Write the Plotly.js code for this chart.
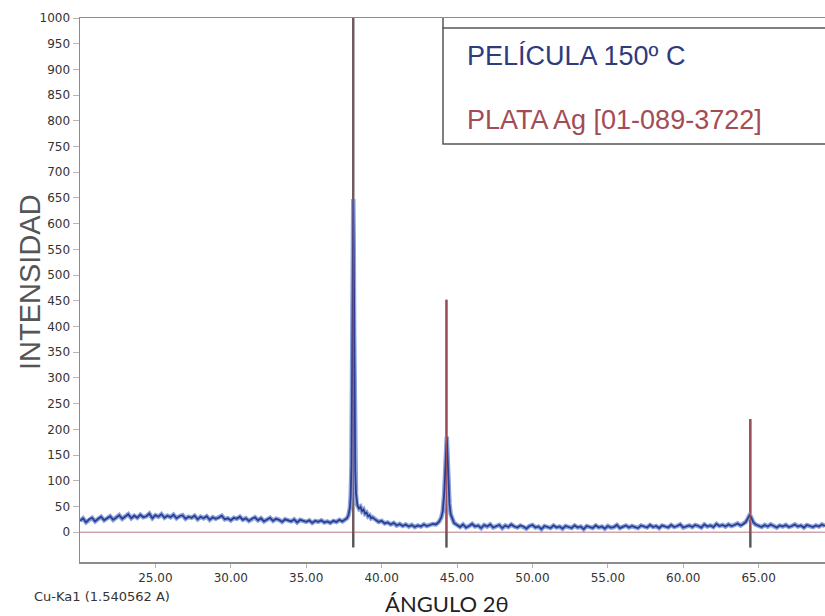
<!DOCTYPE html>
<html>
<head>
<meta charset="utf-8">
<script src="https://cdn.plot.ly/plotly-3.0.1.min.js"></script>
<style>html,body{margin:0;padding:0;background:#fff;}#chart{width:825px;height:616px;}</style>
</head>
<body>
<div id="chart"></div>
<script>
// ---- Sample (PELÍCULA 150º C) background segments: start, step, values ----
const segAStart = 20.0, segAStep = 0.2;
const segAValues = [22,27,19,25,28,21,26,30,23,27,
  31,24,29,33,26,30,35,27,32,28,
  34,29,31,36,27,33,30,35,28,32,
  29,34,27,31,33,26,30,28,32,25,
  30,27,31,24,29,26,28,32,25,27,
  23,28,26,30,24,27,22,26,29,23,
  27,21,25,28,22,26,24,20,25,23,
  21,25,19,24,22,20,23,18,22,20,
  23,19,21,18,22,20,24,21,25];
const peak1X = [37.7,37.8,37.9,37.95,38.0,38.03,38.06,38.09,38.12,38.15,38.18,38.21,38.25,38.3,38.35,38.4,38.5,38.6,38.7,38.8,38.9,39.0,39.1,39.2,39.3,39.4];
const peak1Y = [27,33,48,70,130,260,430,600,648,560,380,220,120,75,55,52,46,49,41,44,36,38,31,33,27,29];
const segBStart = 39.6, segBStep = 0.2;
const segBValues = [24,20,22,17,19,15,18,13,16,12,15,11,14,10,13,11,15,12,14,16,15];
const peak2X = [43.8,43.95,44.05,44.15,44.22,44.28,44.32,44.37,44.43,44.5,44.58,44.68,44.8];
const peak2Y = [20,28,40,75,130,180,186,150,95,55,35,25,18];
const segCStart = 45.0, segCStep = 0.2;
const segCValues = [14,10,15,9,12,16,11,13,8,14,
  11,15,9,12,14,8,13,10,15,11,
  9,13,11,7,12,14,9,11,6,12,
  10,8,13,9,11,7,12,10,8,13,
  9,11,6,12,10,8,13,9,11,7,
  12,9,10,14,8,11,13,9,12,10,
  8,13,11,9,14,10,12,8,13,11,
  9,14,10,12,15,9,11,13,10,14,
  12,9,15,11,13,10,16,12,14,11,
  15,12,14,17,13];
const peak3X = [64.0,64.15,64.25,64.33,64.4,64.47,64.55,64.65,64.8];
const peak3Y = [16,20,25,30,33,31,25,19,15];
const segDStart = 65.0, segDStep = 0.2;
const segDValues = [13,10,14,11,15,12,9,13,11,14,10,12,15,11,13,9,14,12,10,13,11,15,12];

// ---- Reference pattern PLATA Ag [01-089-3722] ----
const refPositions = [38.12, 44.30, 64.45];
const refIntensities = [1000, 452, 220];
const xRange = [20, 69.4];

// ---- Axis ticks ----
const xTickVals = [25, 30, 35, 40, 45, 50, 55, 60, 65];
const xTickText = ["25.00","30.00","35.00","40.00","45.00","50.00","55.00","60.00","65.00"];
const yTickVals = [0,50,100,150,200,250,300,350,400,450,500,550,600,650,700,750,800,850,900,950,1000];

// ---- build series ----
function seg(start, step, vals) {
  return { x: vals.map((v, i) => +(start + i * step).toFixed(3)), y: vals.slice() };
}
const parts = [
  seg(segAStart, segAStep, segAValues),
  { x: peak1X, y: peak1Y },
  seg(segBStart, segBStep, segBValues),
  { x: peak2X, y: peak2Y },
  seg(segCStart, segCStep, segCValues),
  { x: peak3X, y: peak3Y },
  seg(segDStart, segDStep, segDValues)
];
const blueX = [], blueY = [];
parts.forEach(p => { blueX.push(...p.x); blueY.push(...p.y); });

const stickX = [], stickY = [];
refPositions.forEach((p, i) => { stickX.push(p, p, null); stickY.push(-30, refIntensities[i], null); });

const refX = [xRange[0]], refY = [0];
refPositions.forEach((p, i) => { refX.push(p, p, p); refY.push(0, refIntensities[i], 0); });
refX.push(xRange[1]); refY.push(0);

const traces = [
  { x: stickX, y: stickY, mode: 'lines', line: { color: '#555555', width: 2.4 }, hoverinfo: 'skip', showlegend: false },
  { x: blueX, y: blueY, mode: 'lines', line: { color: '#8aa4dc', width: 4.5 }, hoverinfo: 'skip', showlegend: false },
  { x: blueX, y: blueY, mode: 'lines', name: 'PELÍCULA 150º C', line: { color: '#2d3d92', width: 1.8 }, showlegend: false },
  { x: refX, y: refY, mode: 'lines', name: 'PLATA Ag [01-089-3722]', opacity: 0.75, line: { color: '#a24c55', width: 1 }, showlegend: false }
];

const tickFont = { family: '"DejaVu Sans", sans-serif', size: 12, color: '#333333' };
const px = x => (x - 80) / 745;
const py = y => (562 - y) / 544;

const layout = {
  width: 825, height: 616,
  margin: { l: 80, r: 0, t: 18, b: 54 },
  paper_bgcolor: '#ffffff', plot_bgcolor: '#ffffff',
  showlegend: false,
  xaxis: {
    range: xRange, showgrid: false, zeroline: false,
    showline: true, linecolor: '#8c8c8c', linewidth: 1.5, mirror: true,
    ticks: 'outside', ticklen: 4, tickcolor: '#b5b5b5', tickwidth: 1,
    tickvals: xTickVals, ticktext: xTickText, tickfont: tickFont
  },
  yaxis: {
    range: [-58, 1000], showgrid: false, zeroline: false,
    showline: true, linecolor: '#8c8c8c', linewidth: 1.5,
    ticks: 'outside', ticklen: 6, tickcolor: '#b5b5b5', tickwidth: 1,
    tickvals: yTickVals, tickfont: tickFont
  },
  shapes: [
    { type: 'rect', xref: 'paper', yref: 'paper', x0: px(443), x1: 1.05, y0: py(144), y1: py(28),
      line: { color: '#555555', width: 1.5 }, fillcolor: '#ffffff', layer: 'above' },
    { type: 'line', xref: 'paper', yref: 'paper', x0: px(443), x1: px(443), y0: py(28), y1: 1,
      line: { color: '#555555', width: 1.5 }, layer: 'above' }
  ],
  annotations: [
    { text: 'PELÍCULA 150º C', xref: 'paper', yref: 'paper', x: px(465), y: py(56), xanchor: 'left', yanchor: 'middle',
      showarrow: false, font: { family: '"Liberation Sans", Arial, sans-serif', size: 27, color: '#2f3b7c' } },
    { text: 'PLATA Ag [01-089-3722]', xref: 'paper', yref: 'paper', x: px(465), y: py(120), xanchor: 'left', yanchor: 'middle',
      showarrow: false, font: { family: '"Liberation Sans", Arial, sans-serif', size: 27, color: '#a44c55' } },
    { text: 'INTENSIDAD', xref: 'paper', yref: 'paper', x: 0, xshift: -50, y: py(282), xanchor: 'center', yanchor: 'middle',
      textangle: -90, showarrow: false, font: { family: '"Liberation Sans", Arial, sans-serif', size: 29, color: '#555555' } },
    { text: 'ÁNGULO 2θ', xref: 'paper', yref: 'paper', x: px(447), y: py(603), xanchor: 'center', yanchor: 'middle',
      showarrow: false, font: { family: 'Lato, "Open Sans", sans-serif', size: 22, color: '#222222' } },
    { text: 'Cu-Ka1 (1.540562 A)', xref: 'paper', yref: 'paper', x: 0, xshift: -48, y: py(596), xanchor: 'left', yanchor: 'middle',
      showarrow: false, font: { family: '"DejaVu Sans", sans-serif', size: 13, color: '#333333' } }
  ]
};

Plotly.newPlot('chart', traces, layout, { displayModeBar: false, staticPlot: true });
</script>
</body>
</html>
